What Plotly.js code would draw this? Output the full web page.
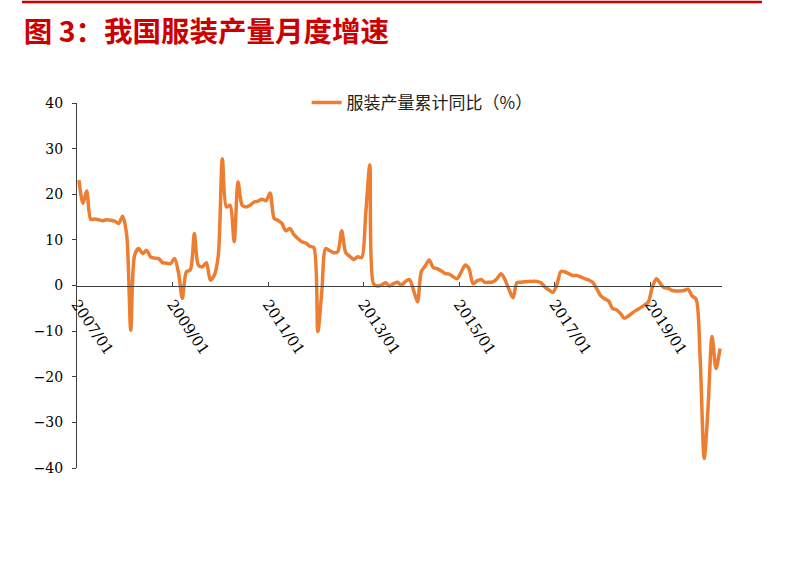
<!DOCTYPE html>
<html>
<head>
<meta charset="utf-8">
<script src="https://cdn.plot.ly/plotly-3.0.1.min.js"></script>
<style>
  html, body { margin: 0; padding: 0; background: #fff; }
  #chart { width: 789px; height: 562px; }
</style>
</head>
<body>
<div id="chart"></div>
<script>
// 服装产量累计同比 (%), monthly
const firstYear = 2007;
const y2007 = [23.1, 18.0, 20.7, 14.5, 14.6, 14.4, 14.2, 14.4, 14.3, 14.1, 13.6, 15.2];
const y2008 = [11.0, -9.8, 6.6, 8.1, 7.0, 7.7, 6.3, 6.0, 5.9, 5.0, 4.9, 4.8];
const y2009 = [5.9, 2.6, -2.8, 3.0, 3.4, 11.4, 4.5, 4.1, 5.0, 1.2, 2.3, 6.6];
const y2010 = [27.8, 17.2, 17.6, 9.6, 22.7, 17.6, 17.2, 17.6, 18.3, 18.5, 18.9, 18.6];
const y2011 = [20.3, 14.7, 14.3, 13.6, 12.0, 12.5, 11.2, 10.3, 9.6, 9.3, 8.6, 8.3];
const y2012 = [-10.1, -1.0, 8.1, 7.6, 7.2, 7.4, 12.0, 7.2, 6.4, 5.7, 6.3, 6.1];
const y2013 = [15.8, 26.4, 0.4, -0.1, 0.1, 0.6, -0.1, 0.4, 0.7, 0.1, 0.9, 1.3];
const y2014 = [-1.0, -3.6, 3.0, 4.3, 5.6, 3.9, 3.7, 3.2, 2.6, 2.5, 1.9, 1.5];
const y2015 = [3.0, 4.5, 3.7, 0.4, 1.0, 1.3, 0.7, 0.7, 0.8, 1.5, 2.6, 1.3];
const y2016 = [-0.9, -2.7, 0.6, 0.7, 0.8, 0.9, 0.9, 0.9, 0.6, -0.3, -1.0, -1.5];
const y2017 = [0.2, 3.1, 3.0, 2.6, 2.2, 2.2, 1.9, 1.5, 1.2, 0.7, -0.7, -2.2];
const y2018 = [-2.9, -3.4, -5.0, -5.3, -6.1, -7.2, -6.7, -6.0, -5.4, -4.9, -4.3, -3.6];
const y2019 = [-0.3, 1.5, 0.5, -0.5, -0.6, -1.1, -1.2, -1.2, -1.1, -0.8, -2.3, -3.0];
const y2020 = [-16.0, -37.9, -27.0, -11.2, -18.2, -13.8];

const years = [y2007, y2008, y2009, y2010, y2011, y2012, y2013,
               y2014, y2015, y2016, y2017, y2018, y2019, y2020];

const seriesName = "服装产量累计同比（%）";
const chartTitle = "图 3：我国服装产量月度增速";

const yTicks = [-40, -30, -20, -10, 0, 10, 20, 30, 40];

// each month's point sits in the middle of its month
const dates = [];
const values = [];
years.forEach((arr, i) => {
    arr.forEach((v, j) => {
        const mm = String(j + 1).padStart(2, "0");
        dates.push((firstYear + i) + "-" + mm + "-16");
        values.push(v);
    });
});

const trace = {
    x: dates,
    y: values,
    type: "scatter",
    mode: "lines",
    name: seriesName,
    line: { color: "#ED7D31", width: 3.5, shape: "spline", smoothing: 0.8 },
    hoverinfo: "skip"
};

const layout = {
    width: 789,
    height: 562,
    margin: { l: 77, r: 67, t: 103, b: 94 },
    paper_bgcolor: "#fff",
    plot_bgcolor: "#fff",
    showlegend: true,
    title: {
        text: chartTitle,
        x: 0.03,
        xanchor: "left",
        y: 0.943,
        yanchor: "middle",
        font: { family: "Noto Sans CJK SC", size: 28.5, color: "#CC0000", weight: 700 }
    },
    legend: {
        orientation: "h",
        x: 0.356,
        xanchor: "left",
        y: 1.0,
        yanchor: "middle",
        bgcolor: "rgba(0,0,0,0)",
        font: { family: "Noto Sans CJK SC", size: 17, color: "#222" }
    },
    xaxis: {
        type: "date",
        range: ["2007-01-01", "2020-07-01"],
        tick0: "2007-01-01",
        dtick: "M24",
        tickformat: "%Y/%m",
        tickangle: 56,
        ticks: "inside",
        ticklen: 4,
        tickcolor: "#404040",
        ticklabelstandoff: 3,
        showgrid: false,
        zeroline: false,
        showline: true,
        linecolor: "#404040",
        linewidth: 1,
        anchor: "free",
        position: 0.5,
        automargin: false,
        tickfont: { family: "DejaVu Serif", size: 15, color: "#000" }
    },
    yaxis: {
        range: [-40, 40],
        tickvals: yTicks,
        ticks: "outside",
        ticklen: 4,
        tickcolor: "#404040",
        ticklabelstandoff: 6,
        showgrid: false,
        zeroline: false,
        showline: true,
        linecolor: "#404040",
        linewidth: 1,
        automargin: false,
        tickfont: { family: "DejaVu Serif", size: 14, color: "#000" }
    },
    shapes: [
        {
            type: "line",
            xref: "paper", yref: "paper",
            x0: -0.0853, x1: 1.062,
            y0: 1.2767, y1: 1.2767,
            line: { color: "#CC0000", width: 2.5 }
        }
    ]
};

Plotly.newPlot("chart", [trace], layout, { displayModeBar: false, staticPlot: true });
</script>
</body>
</html>
